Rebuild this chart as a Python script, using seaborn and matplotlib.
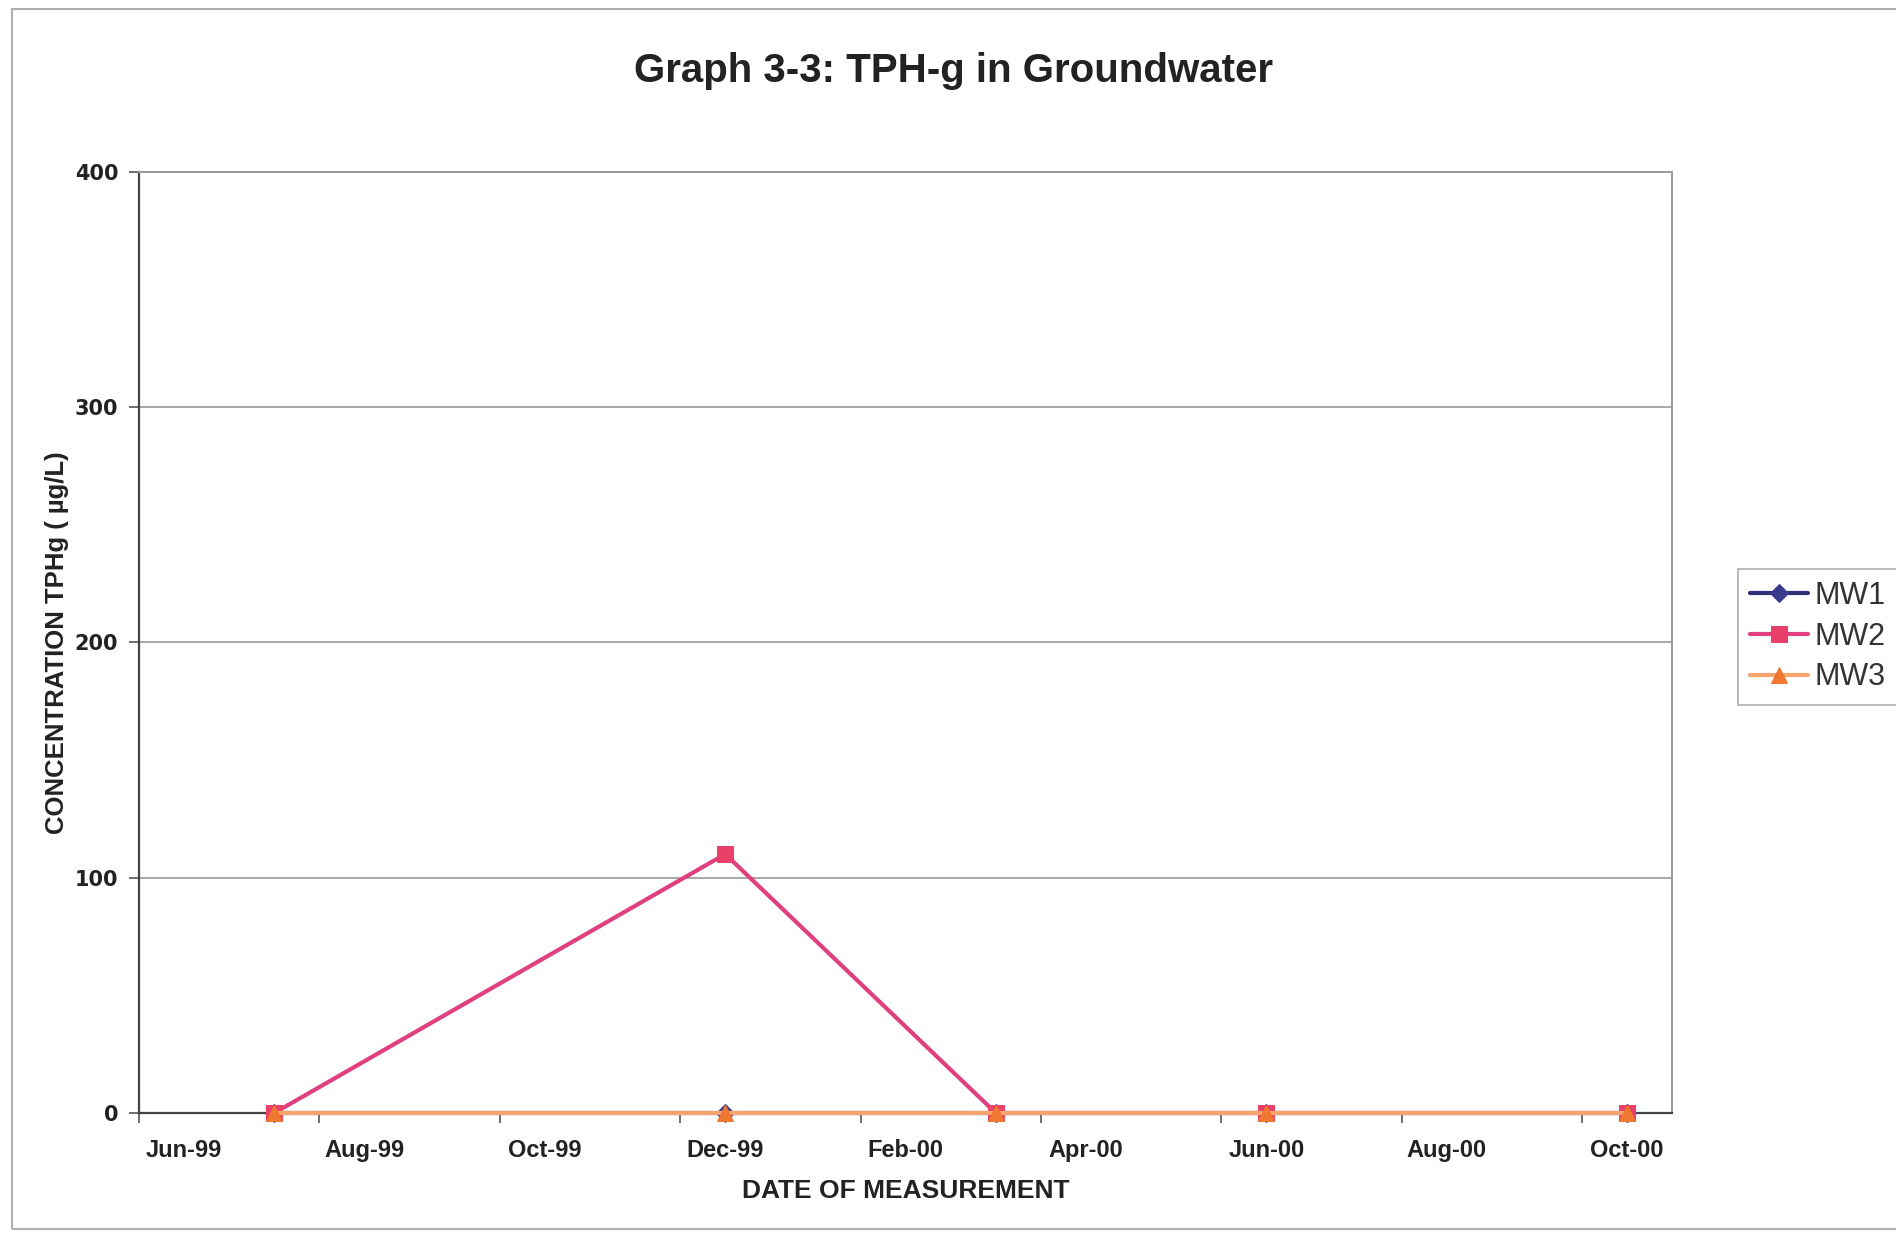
import matplotlib
matplotlib.use("Agg")
import matplotlib.pyplot as plt
from matplotlib.patches import Rectangle
import numpy as np
import pandas as pd
import seaborn as sns

# Sampling dates and TPH-g concentrations (ug/L)
sample_dates = ["1999-07", "1999-12", "2000-03", "2000-06", "2000-10"]
mw1 = [0, 0, 0, 0, 0]
mw2 = [0, 110, 0, 0, 0]
mw3 = [0, 0, 0, 0, 0]

month_labels = ["Jun-99", "Aug-99", "Oct-99", "Dec-99", "Feb-00",
                "Apr-00", "Jun-00", "Aug-00", "Oct-00"]
y_ticks = [0, 100, 200, 300, 400]

sns.set_theme(style="white")
plt.rcParams["font.family"] = ["Liberation Sans", "DejaVu Sans"]

# Month-based axis: each month is one unit, points sit mid-month
start = pd.Period("1999-06", freq="M")
def month_pos(s):
    return (pd.Period(s, freq="M") - start).n + 0.5

xpos = [month_pos(d) for d in sample_dates]
df = pd.DataFrame({"x": xpos * 3,
                   "value": mw1 + mw2 + mw3,
                   "well": ["MW1"] * 5 + ["MW2"] * 5 + ["MW3"] * 5})

fig = plt.figure(figsize=(18.96, 12.35), dpi=100)
ax = fig.add_axes([0.0733, 0.0988, 0.8087, 0.7622])

styles = {
    "MW1": dict(color="#2F2F78", marker="D", mfc="#3A3A8C", ms=9),
    "MW2": dict(color="#E0407F", marker="s", mfc="#E8406A", ms=12),
    "MW3": dict(color="#F4A46C", marker="^", mfc="#F07830", ms=11),
}
for name in ["MW1", "MW2", "MW3"]:
    st = styles[name]
    sub = df[df["well"] == name]
    sns.lineplot(data=sub, x="x", y="value", ax=ax, color=st["color"],
                 linewidth=3.0, marker=st["marker"], markersize=st["ms"],
                 markerfacecolor=st["mfc"], markeredgecolor=st["mfc"],
                 label=name, legend=False, zorder=3, clip_on=False)

ax.set_xlim(0, 17)
ax.set_ylim(0, 400)
ax.set_yticks(y_ticks)
ax.set_yticklabels([str(v) for v in y_ticks], fontsize=15, fontweight="bold",
                   family=["DejaVu Sans"], color="#222222")
ax.yaxis.grid(True, color="#9A9A9A", linewidth=1.2)
ax.xaxis.grid(False)

# Ticks at month boundaries, labels centred within the month
ax.set_xticks(np.arange(0, 17, 2))
ax.set_xticklabels([])
ax.set_xticks(np.arange(0, 17, 2) + 0.5, minor=True)
ax.set_xticklabels(month_labels, minor=True, fontsize=17, fontweight="bold",
                   color="#222222")
ax.tick_params(axis="x", which="major", direction="out", length=7,
               width=1.2, color="#555555", bottom=True)
ax.tick_params(axis="x", which="minor", length=0, pad=19)
ax.tick_params(axis="y", direction="out", length=7, width=1.2,
               color="#555555", left=True, pad=8)

for side in ["left", "bottom"]:
    ax.spines[side].set_color("#444444")
    ax.spines[side].set_linewidth(1.6)
for side in ["top", "right"]:
    ax.spines[side].set_color("#9A9A9A")
    ax.spines[side].set_linewidth(1.4)

ax.set_xlabel("DATE OF MEASUREMENT", fontsize=19, fontweight="bold",
              labelpad=12, color="#222222")
ax.set_ylabel("CONCENTRATION TPHg ( \u00b5g/L)", fontsize=18.5,
              fontweight="bold", labelpad=4, color="#222222")

fig.suptitle("Graph 3-3: TPH-g in Groundwater", x=0.503, y=0.958,
             fontsize=29, fontweight="bold", color="#222222")

leg = ax.legend(loc="center left", bbox_to_anchor=(1.043, 0.506),
                fontsize=22, frameon=True, fancybox=False,
                handlelength=1.9, handletextpad=0.2, borderpad=0.4,
                labelspacing=0.35, borderaxespad=0)
leg.get_frame().set_edgecolor("#9A9A9A")
leg.get_frame().set_linewidth(1.2)
for t in leg.get_texts():
    t.set_color("#333333")

# Chart area border
fig.patches.append(Rectangle((0.0063, 0.0045), 1.2, 0.9885,
                             transform=fig.transFigure, fill=False,
                             edgecolor="#B0B0B0", linewidth=1.5))

fig.savefig("out.png", dpi=100, facecolor="white")
